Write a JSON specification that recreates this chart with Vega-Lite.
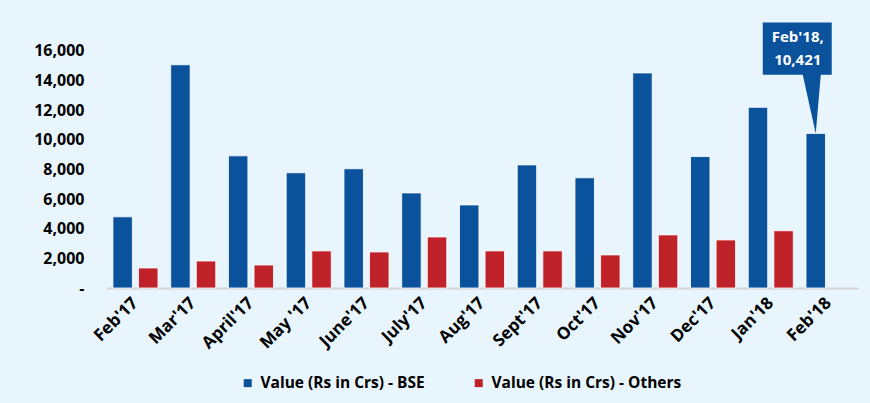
{
  "$schema": "https://vega.github.io/schema/vega-lite/v6.json",
  "width": 752,
  "height": 267,
  "autosize": {"type": "none"},
  "padding": {"left": 106, "top": 21, "right": 12, "bottom": 115},
  "background": "#e8f5fc",
  "config": {
    "view": {"stroke": null},
    "font": "Open Sans",
    "axis": {"labelOverlap": false}
  },
  "encoding": {
    "x": {
      "field": "month",
      "type": "nominal",
      "scale": {
        "domain": ["Feb'17", "Mar'17", "April'17", "May '17", "June'17", "July'17", "Aug'17", "Sept'17", "Oct'17", "Nov'17", "Dec'17", "Jan'18", "Feb'18"],
        "paddingInner": 0.22,
        "paddingOuter": 0.12
      },
      "axis": {
        "title": null,
        "labelAngle": -45,
        "labelAlign": "right",
        "labelBaseline": "middle",
        "labelFont": "Open Sans",
        "labelFontSize": 17,
        "labelFontWeight": "bold",
        "labelColor": "#000000",
        "labelPadding": 12,
        "labelOverlap": false,
        "ticks": false,
        "domainColor": "#d4d4d4",
        "domainWidth": 2,
        "grid": false
      }
    },
    "xOffset": {
      "field": "series",
      "type": "nominal",
      "scale": {"domain": ["Value (Rs in Crs) - BSE", "Value (Rs in Crs) - Others"], "paddingInner": 0.24, "paddingOuter": 0}
    },
    "y": {
      "field": "value",
      "type": "quantitative",
      "scale": {"domain": [0, 18000], "nice": false},
      "axis": {
        "title": null,
        "values": [0, 2000, 4000, 6000, 8000, 10000, 12000, 14000, 16000],
        "labelExpr": "datum.value == 0 ? '-' : format(datum.value, ',')",
        "labelFont": "Open Sans",
        "labelFontSize": 16,
        "labelFontWeight": "bold",
        "labelColor": "#000000",
        "labelPadding": 22,
        "labelOverlap": false,
        "labelBound": false,
        "ticks": false,
        "domain": false,
        "grid": false
      }
    }
  },
  "layer": [
    {
      "data": {
        "values": [
          {"month": "Feb'17", "series": "Value (Rs in Crs) - BSE", "value": 4800},
          {"month": "Feb'17", "series": "Value (Rs in Crs) - Others", "value": 1350},
          {"month": "Mar'17", "series": "Value (Rs in Crs) - BSE", "value": 15050},
          {"month": "Mar'17", "series": "Value (Rs in Crs) - Others", "value": 1820},
          {"month": "April'17", "series": "Value (Rs in Crs) - BSE", "value": 8910},
          {"month": "April'17", "series": "Value (Rs in Crs) - Others", "value": 1550},
          {"month": "May '17", "series": "Value (Rs in Crs) - BSE", "value": 7770},
          {"month": "May '17", "series": "Value (Rs in Crs) - Others", "value": 2500},
          {"month": "June'17", "series": "Value (Rs in Crs) - BSE", "value": 8040},
          {"month": "June'17", "series": "Value (Rs in Crs) - Others", "value": 2430},
          {"month": "July'17", "series": "Value (Rs in Crs) - BSE", "value": 6410},
          {"month": "July'17", "series": "Value (Rs in Crs) - Others", "value": 3440},
          {"month": "Aug'17", "series": "Value (Rs in Crs) - BSE", "value": 5600},
          {"month": "Aug'17", "series": "Value (Rs in Crs) - Others", "value": 2500},
          {"month": "Sept'17", "series": "Value (Rs in Crs) - BSE", "value": 8300},
          {"month": "Sept'17", "series": "Value (Rs in Crs) - Others", "value": 2500},
          {"month": "Oct'17", "series": "Value (Rs in Crs) - BSE", "value": 7430},
          {"month": "Oct'17", "series": "Value (Rs in Crs) - Others", "value": 2230},
          {"month": "Nov'17", "series": "Value (Rs in Crs) - BSE", "value": 14500},
          {"month": "Nov'17", "series": "Value (Rs in Crs) - Others", "value": 3580},
          {"month": "Dec'17", "series": "Value (Rs in Crs) - BSE", "value": 8860},
          {"month": "Dec'17", "series": "Value (Rs in Crs) - Others", "value": 3240},
          {"month": "Jan'18", "series": "Value (Rs in Crs) - BSE", "value": 12180},
          {"month": "Jan'18", "series": "Value (Rs in Crs) - Others", "value": 3860},
          {"month": "Feb'18", "series": "Value (Rs in Crs) - BSE", "value": 10421}
        ]
      },
      "mark": {"type": "bar", "stroke": "white", "strokeWidth": 1, "strokeOpacity": 0.8},
      "encoding": {
        "color": {
          "field": "series",
          "type": "nominal",
          "scale": {"domain": ["Value (Rs in Crs) - BSE", "Value (Rs in Crs) - Others"], "range": ["#0b529d", "#c0222a"]},
          "legend": {
            "title": null,
            "orient": "none",
            "direction": "horizontal",
            "legendX": 134,
            "legendY": 354,
            "symbolType": "square",
            "symbolSize": 64,
            "symbolStrokeWidth": 0,
            "labelFont": "Open Sans",
            "labelFontSize": 15.5,
            "labelFontWeight": "bold",
            "labelColor": "#000000",
            "labelOffset": 5,
            "columnPadding": 46,
            "labelLimit": 300
          }
        }
      }
    },
    {
      "data": {"values": [{"month": "Feb'18", "series": "Value (Rs in Crs) - BSE", "value": 10421}]},
      "mark": {
        "type": "point",
        "shape": "M-0.473,-0.99 L0.143,-0.99 L0.143,-0.523 L0.045,-0.523 L0,0 L-0.116,-0.523 L-0.473,-0.523 Z",
        "size": 50176,
        "filled": true,
        "fill": "#0b529d",
        "opacity": 1,
        "strokeWidth": 0
      }
    },
    {
      "data": {"values": [{"month": "Feb'18", "series": "Value (Rs in Crs) - BSE", "value": 10421}]},
      "mark": {
        "type": "text",
        "text": ["Feb'18,", "10,421"],
        "font": "Open Sans",
        "fontSize": 15,
        "fontWeight": "bold",
        "color": "#ffffff",
        "align": "center",
        "baseline": "middle",
        "lineHeight": 23,
        "dx": -18,
        "dy": -96
      }
    }
  ]
}
